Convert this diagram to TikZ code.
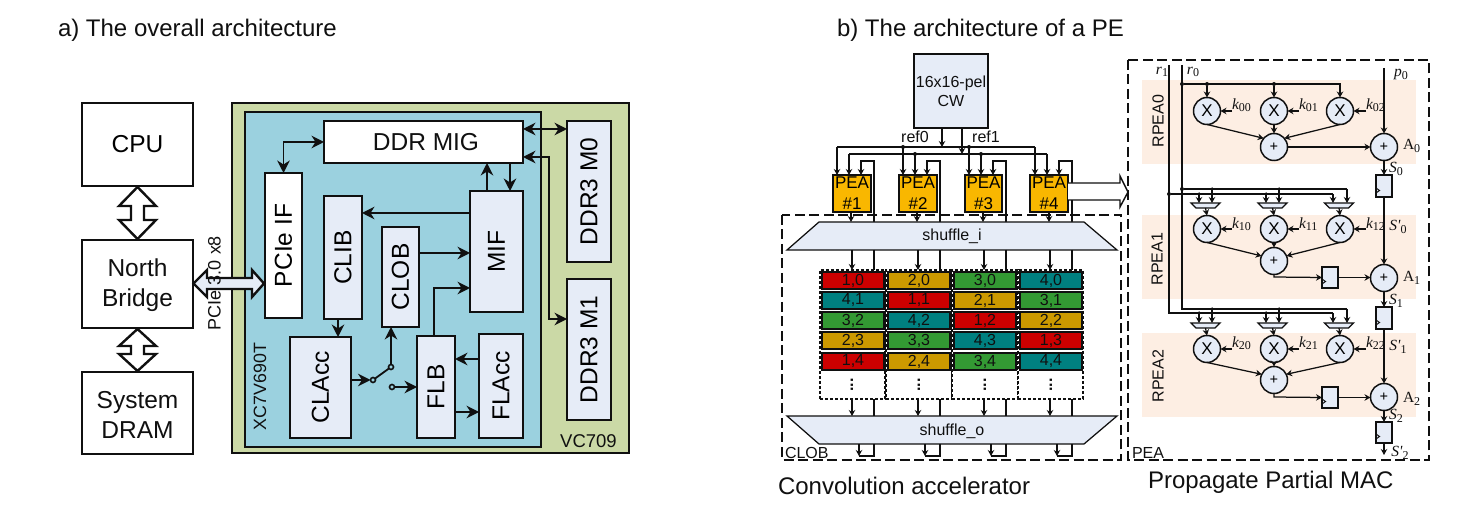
\documentclass[tikz,border=0pt]{standalone}
\usepackage{fontspec}
\setmainfont{Liberation Sans}
\newfontfamily\tms{Liberation Serif}
\usetikzlibrary{arrows.meta,calc}
\definecolor{bluebox}{HTML}{E6ECF7}
\definecolor{board}{HTML}{CBD9A6}
\definecolor{fpga}{HTML}{9BD1DF}
\definecolor{peac}{HTML}{F9B700}
\definecolor{rpea}{HTML}{FDEEE3}
\definecolor{cR}{HTML}{CC0000}
\definecolor{cY}{HTML}{CC9900}
\definecolor{cG}{HTML}{339933}
\definecolor{cT}{HTML}{008080}
\definecolor{ink}{HTML}{101010}
\newcommand\fsz[1]{\fontsize{#1}{#1}\selectfont}
\newcommand\bx[7][]{\node[#1,#2,minimum width={(#5-#3)*1pt},minimum height={(#6-#4)*1pt}] (#7) at ({(#3+#5)/2},{(#4+#6)/2})}
\newcommand\rot[1]{\rotatebox{90}{#1}}
\newcommand\sub[2]{{\tms\fsz{15.5}#1\raisebox{-2.5pt}{\upshape\fsz{12}#2}}}
\newcommand\subit[2]{{\tms\itshape\fsz{15.5}#1\raisebox{-2.5pt}{\upshape\fsz{12}#2}}}
\tikzset{
  plain/.style={draw=ink,line width=2.4pt,inner sep=0pt,outer sep=0pt,align=center},
  whitebox/.style={plain,fill=white},
  lightbox/.style={plain,fill=bluebox},
  big/.style={font=\fontsize{24.5}{30}\selectfont},
  title/.style={inner sep=0pt,outer sep=0pt,text=ink,anchor=west,font=\fsz{24}},
  conn/.style={draw=ink,line width=1.8pt},
  arrL/.style={conn,-{Stealth[length=12.5pt,width=12.5pt]}},
  arrLL/.style={conn,{Stealth[length=12.5pt,width=12.5pt]}-{Stealth[length=12.5pt,width=12.5pt]}},
  hollow/.style={draw=ink,line width=2.4pt,line join=miter},
  pin/.style={circle,draw=ink,line width=1.6pt,fill=fpga,inner sep=0pt,minimum size=5pt,outer sep=0pt},
  txt/.style={inner sep=0pt,outer sep=0pt,text=ink},
  wire/.style={draw=ink,line width=1.25pt},
  arrS/.style={wire,-{Stealth[length=6pt,width=6.5pt]}},
  dot/.style={circle,fill=ink,inner sep=0pt,minimum size=4pt},
  pea/.style={plain,fill=peac,font=\fsz{17}},
  dashbox/.style={draw=ink,line width=1.2pt,dash pattern=on 10pt off 4.5pt},
  cellbox/.style={draw=ink,line width=1.4pt,inner sep=0pt,outer sep=0pt,font=\fsz{16},text=ink},
  colbox/.style={draw=ink,fill=white,line width=1.2pt,densely dashed,inner sep=0pt,outer sep=0pt},
  trap/.style={draw=ink,fill=bluebox,line width=1.25pt},
  op/.style={circle,draw=ink,fill=bluebox,line width=1.5pt,minimum size=27pt,inner sep=0pt,outer sep=0pt},
  regbox/.style={draw=ink,fill=bluebox,line width=1.5pt,inner sep=0pt,outer sep=0pt},
  bg/.style={fill=rpea,inner sep=0pt,outer sep=0pt},
}
\begin{document}
\begin{tikzpicture}[x=1pt,y=-1pt]
\useasboundingbox (0,0) rectangle (1468,518);
\fill[white] (0,0) rectangle (1468,518);
% titles
\node[title] (ta) at (58,30) {a) The overall architecture};
\node[title] (tb) at (837,30) {b) The architecture of a PE};
\node[title] (tc) at (778,485.5) {Convolution accelerator};
\node[title] (td) at (1148,482.5) {Propagate Partial MAC};
% left host
\bx[whitebox,big]{}{82}{103}{193}{186}{cpu} {CPU};
\bx[whitebox]{}{82}{240}{193}{328}{nb} {};
\node[txt,big,align=center] (nbl) at (137.5,285) {North\\Bridge};
\bx[whitebox]{}{82}{372}{193}{454}{dram} {};
\node[txt,big,align=center] (draml) at (137.5,414.5) {System\\DRAM};
\draw[hollow,fill=white] (137.5,187) -- (156,206) -- (144,206) -- (144,220) -- (156,220) -- (137.5,239) -- (119,220) -- (131,220) -- (131,206) -- (119,206) -- cycle;
\draw[hollow,fill=white] (137.5,329) -- (156,346) -- (144,346) -- (144,354) -- (156,354) -- (137.5,371) -- (119,354) -- (131,354) -- (131,346) -- (119,346) -- cycle;
% board
\bx[plain,fill=board]{}{232}{103}{629}{453}{vc} {};
\bx[plain,fill=fpga]{}{245}{112}{541}{447}{xc} {};
\node[txt,font=\fsz{18.5}] (vcl) at (588.5,441) {VC709};
\node[txt,font=\fsz{17.8}] (xcl) at (260,386.5) {\rot{XC7V690T}};
\bx[whitebox]{}{324}{121}{523}{163}{mig} {};
\node[txt,big] (migl) at (426,142) {DDR MIG};
\bx[whitebox,big]{}{265}{173}{302}{318}{pif} {\rot{PCIe IF}};
\bx[lightbox,big]{}{324}{196}{362}{319}{clib} {\rot{CLIB}};
\bx[lightbox,big]{}{290}{337}{351}{438}{clacc} {\rot{CLAcc}};
\bx[lightbox,big]{}{382}{227}{419}{327}{clob} {\rot{CLOB}};
\bx[lightbox,big]{}{470}{191}{523}{312}{mif} {\rot{MIF}};
\bx[lightbox,big]{}{417}{336}{455}{438}{flb} {\rot{FLB}};
\bx[lightbox,big]{}{479}{334}{523}{438}{flacc} {\rot{FLAcc}};
\bx[lightbox,big]{}{567}{121}{611}{262}{m0} {\rot{DDR3 M0}};
\bx[lightbox,big]{}{567}{279}{611}{420}{m1} {\rot{DDR3 M1}};
% left connectors
\draw[arrLL] (pif.north) |- (mig.west);
\draw[arrLL] (mig.east |- 0,129) -- (m0.west |- 0,129);
\draw[arrLL] (mig.east |- 0,157) -- (549,157) |- (m1.west |- 0,319);
\draw[arrL] (mif.north -| 487,0) -- (mig.south -| 487,0);
\draw[arrL] (mig.south -| 510,0) -- (mif.north -| 510,0);
\draw[arrL] (mif.west |- 0,213) -- (clib.east |- 0,213);
\draw[arrL] (clob.east |- 0,253) -- (mif.west |- 0,253);
\draw[arrL] (flb.north -| 434,0) |- (mif.west |- 0,288);
\draw[arrL] (clib.south -| 338,0) -- (clacc.north -| 338,0);
\node[pin] (sw1) at (373,380) {};
\node[pin] (sw2) at (391,367) {};
\node[pin] (sw3) at (392,387) {};
\draw[arrL] (clacc.east |- sw1) -- (sw1.west);
\draw[conn] (sw1) -- (sw2);
\draw[arrL] (sw2.north) -- (clob.south -| sw2);
\draw[arrL] (sw3.east) -- (flb.west |- sw3);
\draw[arrL] (flacc.west |- 0,359) -- (flb.east |- 0,359);
\draw[arrL] (flb.east |- 0,412) -- (flacc.west |- 0,412);
% PCIe arrow
\draw[hollow,fill=bluebox] (193.5,283.5) -- (207,270) -- (207,278) -- (252,278) -- (252,270) -- (264,283.5) -- (252,297) -- (252,289) -- (207,289) -- (207,297) -- cycle;
\node[txt,font=\fsz{18}] (pcl) at (214.5,283) {\rot{PCIe 3.0 x8}};
% PE: CW
\bx[plain,fill=bluebox,line width=2.6pt,font=\fsz{16},text=ink]{}{914}{54}{988}{128}{cw} {16x16-pel\\[3pt]CW};
\node[txt,font=\fsz{16}] (r0l) at (915,137) {ref0};
\node[txt,font=\fsz{16}] (r1l) at (986,137) {ref1};
% dashed boxes
\draw[dashbox] (782,215) rectangle (1121,460);
\draw[dashbox] (1128,60) rectangle (1429,460);
% PEAs
\foreach \n/\a/\b in {1/833/871,2/899/937,3/965/1002,4/1030/1068}{
  \bx[pea]{}{\a}{175}{\b}{212}{pe\n} {PEA\\[4pt]\#\n};
}
\coordinate (bus0l) at (837,147);
\coordinate (bus1l) at (849,154);
\coordinate (bus0r) at (1035,147);
\coordinate (bus1r) at (1047,154);
\draw[wire] (bus0l) -- (bus0r);
\draw[wire] (bus1l) -- (bus1r);
\draw[arrS] (cw.south -| 942,0) -- (942,147);
\draw[arrS] (cw.south -| 962,0) -- (962,154);
\foreach \n/\p/\q/\r/\f in {1/837/849/861/874,2/903/915/927/940,3/969/981/993/1006,4/1035/1047/1059/1072}{
  \draw[arrS] (\p,147) -- (pe\n.north -| \p,0);
  \draw[arrS] (\q,154) -- (pe\n.north -| \q,0);
  \draw[arrS] (\f,222) -- (\f,161) -- (\r,161) -- (pe\n.north -| \r,0);
}
\node[dot] (d1) at (903,147) {};
\node[dot] (d2) at (915,154) {};
\node[dot] (d3) at (969,147) {};
\node[dot] (d4) at (981,154) {};
% hollow output arrow
\draw[draw=ink,line width=1.4pt,fill=white] (pe4.east |- 0,183) -- (1120,183) -- (1120,176) -- (1128,192) -- (1120,207) -- (1120,200) -- (pe4.east |- 0,200);
% shuffle
\node[txt,minimum width=330pt,minimum height=28pt] (si) at (952,236) {};
\draw[trap] (819,222) -- (1084,222) -- (1117,250) -- (787,250) -- cycle;
\node[txt,font=\fsz{16}] (sil) at (952,236) {shuffle\_i};
\node[txt,minimum width=330pt,minimum height=28pt] (so) at (952,430) {};
\draw[trap] (787,416) -- (1117,416) -- (1084,444) -- (819,444) -- cycle;
\node[txt,font=\fsz{16}] (sol) at (952,431) {shuffle\_o};
\foreach \n/\p in {1/851,2/917,3/983,4/1049}{
  \draw[arrS] (pe\n.south -| \p,0) -- (si.north -| \p,0);
}
% grid
\foreach \n/\a/\b in {1/820/885,2/886/952,3/952/1018,4/1018/1083}{
  \bx[colbox]{}{\a}{270}{\b}{399}{col\n} {};
}
\foreach \j/\u/\v in {0/272/289,1/292/309,2/312/329,3/332/349,4/353/370}{
  \foreach \i/\a/\b in {0/822/884,1/888/950,2/954/1016,3/1020/1082}{
    \pgfmathtruncatemacro\pe{mod(\i-\j+8,4)+1}
    \ifcase\pe\or\def\cc{cR}\or\def\cc{cY}\or\def\cc{cG}\or\def\cc{cT}\fi
    \bx[cellbox,fill=\cc]{}{\a}{\u}{\b}{\v}{cell\i\j} {\pe,\j};
  }
}
\foreach \n/\x in {1/852,2/919,3/985,4/1051}{
  \node[txt,font=\bfseries\fsz{16}] (vd\n) at (\x,385) {\rotatebox{90}{...}};
}
\foreach \n/\a/\b/\c in {1/852/874/859,2/918/940/925,3/984/1006/991,4/1050/1072/1057}{
  \draw[arrS] (si.south -| \a,0) -- (col\n.north -| \a,0);
  \draw[wire] (si.south -| \b,0) -- (col\n.north -| \b,0);
  \draw[arrS] (col\n.south -| \a,0) -- (so.north -| \a,0);
  \draw[wire] (col\n.south -| \b,0) -- (so.north -| \b,0);
  \draw[wire] (so.south -| \b,0) -- (\b,456) -- (\c,456);
  \draw[arrS] (so.south -| \c,0) -- (\c,456);
}
\node[txt,anchor=west,font=\fsz{16}] (clobl) at (785,453) {CLOB};
\node[txt,anchor=west,font=\fsz{16}] (peal) at (1132,453) {PEA};
% right panel backgrounds
\bx[bg]{}{1142}{80}{1416}{164}{bg0} {};
\bx[bg]{}{1142}{215}{1416}{299}{bg1} {};
\bx[bg]{}{1142}{333}{1416}{417}{bg2} {};
\node[txt,font=\fsz{16}] (rl0) at (1158,121) {\rot{RPEA0}};
\node[txt,font=\fsz{16}] (rl1) at (1157,259) {\rot{RPEA1}};
\node[txt,font=\fsz{16}] (rl2) at (1158,376) {\rot{RPEA2}};
% inputs
\node[txt] (lr1) at (1162,72) {\subit{r}{1}};
\node[txt] (lr0) at (1193,72) {\subit{r}{0}};
\node[txt] (lp0) at (1401,75) {\subit{p}{0}};
\coordinate (r1top) at (1169,65);
\coordinate (r0top) at (1182,65);
\coordinate (p0top) at (1384,68);
% operators
\foreach \r/\xy/\sy/\ay/\ky in {0/111/147/147/105,1/229/261/278/224,2/349/380/397/343}{
  \foreach \c/\xx/\kx in {0/1207/1232,1/1274/1299,2/1340/1366}{
    \node[op,font=\fsz{17}] (x\r\c) at (\xx,\xy) {X};
    \coordinate (kt\r\c) at (\kx,\xy);
    \draw[arrS] (kt\r\c) -- (x\r\c.east);
    \node[txt,anchor=west] (kl\r\c) at (\kx,\ky) {\subit{k}{\r\c}};
  }
  \node[op,font=\tms\bfseries\fsz{15}] (sm\r) at (1274,\sy) {+};
  \node[op,font=\tms\bfseries\fsz{15}] (a\r) at (1384,\ay) {+};
  \draw[arrS] (x\r1.south) -- (sm\r.north);
}
\draw[arrS] (x00.south) -- (sm0.140);
\draw[arrS] (x02.south) -- (sm0.40);
\draw[arrS] (x10.south) -- (sm1.158);
\draw[arrS] (x12.south) -- (sm1.22);
\draw[arrS] (x20.south) -- (sm2.155);
\draw[arrS] (x22.south) -- (sm2.25);
% top buses
\draw[wire] (r1top) -- (1169,313) -- (1333,313);
\draw[wire] (r0top) -- (1182,309) -- (1347,309);
\node[dot] (r0d) at (1182,84) {};
\draw[arrS] (r0d) -| (x02.north);
\node[dot] (t0) at (1207,84) {};
\node[dot] (t1) at (1274,84) {};
\draw[arrS] (t0) -- (x00.north);
\draw[arrS] (t1) -- (x01.north);
\node[dot] (b0) at (1182,189) {};
\node[dot] (b1) at (1169,194) {};
\draw[wire] (b0) -- (1347,189);
\draw[wire] (b1) -- (1333,194);
% muxes
\foreach \r/\yb/\yc/\ya/\yd in {1/189/194/203/208,2/309/313/323/328}{
  \foreach \c/\mx/\xa/\xb/\da in {0/1205.5/1199/1212/1,1/1272.5/1266/1279/1,2/1339/1333/1347/0}{
    \draw[trap] (\mx-14.5,\ya) -- (\mx+14.5,\ya) -- (\mx+9.5,\yd) -- (\mx-9.5,\yd) -- cycle;
    \node[txt,minimum width=19pt,minimum height=5pt] (mx\r\c) at (\mx,\ya+2.5) {};
    \draw[arrS] (\xa,\yc) -- (mx\r\c.north -| \xa,0);
    \draw[arrS] (\xb,\yb) -- (mx\r\c.north -| \xb,0);
    \ifnum\da=1
      \node[dot,minimum size=3.5pt] (da\r\c) at (\xa,\yc) {};
      \node[dot,minimum size=3.5pt] (db\r\c) at (\xb,\yb) {};
    \fi
    \draw[arrS] (mx\r\c.south) -- (x\r\c.north);
  }
}
% registers
\newcommand\regn[5]{\node[regbox,minimum width={(#4-#2)*1pt},minimum height={(#5-#3)*1pt}] (#1) at ({(#2+#4)/2},{(#3+#5)/2}) {};
  \draw[wire,line width=1pt] (#1.south west) ++(0,-9) -- ++(3.5,2.5) -- ++(-3.5,2.5);}
\regn{ra0}{1376}{175}{1392}{197}
\regn{ra1}{1376}{307}{1392}{329}
\regn{ra2}{1376}{422}{1392}{443}
\regn{rs1}{1322}{267}{1338}{288}
\regn{rs2}{1322}{387}{1338}{408}
% data path
\coordinate (sout) at (1384,455);
\draw[arrS] (p0top) -- (a0.north);
\draw[arrS] (sm0.east) -- (a0.west);
\draw[arrS] (a0.south) -- (ra0.north);
\draw[arrS] (ra0.south) -- (a1.north);
\draw[arrS] (sm1.south) -- (1274,277) -- (rs1.west);
\draw[arrS] (rs1.east) -- (a1.west |- rs1.east);
\draw[arrS] (a1.south) -- (ra1.north);
\draw[arrS] (ra1.south) -- (a2.north);
\draw[arrS] (sm2.south) -- (1274,397) -- (rs2.west);
\draw[arrS] (rs2.east) -- (a2.west |- rs2.east);
\draw[arrS] (a2.south) -- (ra2.north);
\draw[arrS] (ra2.south) -- (sout);
% labels
\node[txt,anchor=west] (la0) at (1403,146) {\sub{A}{0}};
\node[txt,anchor=west] (la1) at (1403,278) {\sub{A}{1}};
\node[txt,anchor=west] (la2) at (1403,399) {\sub{A}{2}};
\node[txt] (ls0) at (1396,169) {\subit{S}{0}};
\node[txt] (ls1) at (1396,301) {\subit{S}{1}};
\node[txt] (ls2) at (1396,416) {\subit{S}{2}};
\node[txt] (lp0s) at (1398,227) {\subit{S'}{0}};
\node[txt] (lp1s) at (1398,347) {\subit{S'}{1}};
\node[txt] (lp2s) at (1400,453) {\subit{S'}{2}};
\end{tikzpicture}
\end{document}
